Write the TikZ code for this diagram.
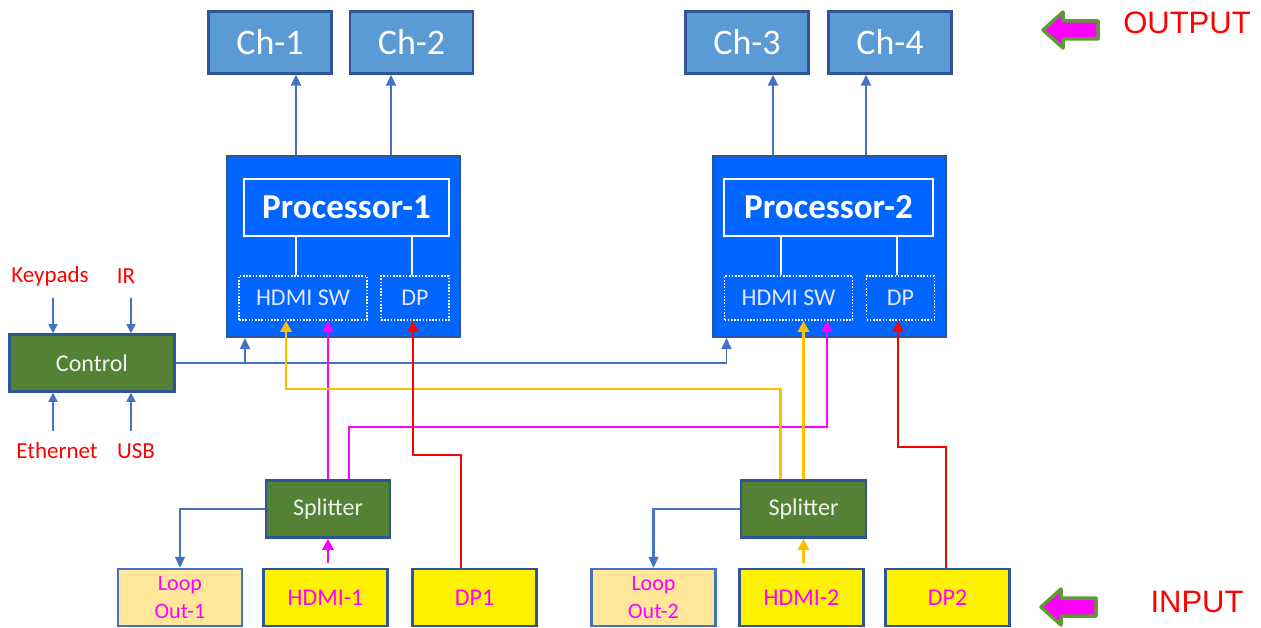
\documentclass[tikz,border=0pt]{standalone}
\usepackage{fontspec}
\setmainfont{Carlito}
\newfontfamily\arialfont{Liberation Sans}
\usepackage{xcolor}
\usetikzlibrary{arrows.meta,positioning,calc}
\definecolor{chfill}{HTML}{5B9BD5}
\definecolor{dkblue}{HTML}{2F5597}
\definecolor{procfill}{HTML}{0066FF}
\definecolor{grn}{HTML}{548235}
\definecolor{lpfill}{HTML}{FFE699}
\definecolor{lpborder}{HTML}{4472C4}
\definecolor{lnblue}{HTML}{4472C4}
\definecolor{mag}{HTML}{FF00FF}
\definecolor{gold}{HTML}{FFC000}
\definecolor{lblred}{HTML}{FF0000}
\definecolor{arrgrn}{HTML}{5E9B32}
\begin{document}
\begin{tikzpicture}[x=1pt,y=-1pt,
    box/.style={draw=dkblue, line width=2.5pt, inner sep=0pt, minimum height=57pt},
    chbox/.style={box, fill=chfill, minimum width=123pt, minimum height=62pt, text=white, font=\fontsize{36}{40}\selectfont},
    procbox/.style={draw=dkblue, line width=2pt, fill=procfill, minimum width=233pt, minimum height=181pt},
    corebox/.style={draw=white, line width=2pt, minimum height=57pt, text=white, font=\bfseries\fontsize{35}{40}\selectfont},
    swbox/.style={draw=white, line width=1.6pt, dash pattern=on 1.6pt off 1.6pt, minimum height=44pt, text=white!90!blue, font=\fontsize{24}{28}\selectfont},
    grnbox/.style={box, fill=grn, text=white!95!black, font=\fontsize{24}{28}\selectfont},
    inbox/.style={box, fill=yellow, text=mag, minimum width=124pt, font=\fontsize{24}{28}\selectfont},
    loopbox/.style={inbox, draw=lpborder, fill=lpfill, align=center, font=\fontsize{22}{28}\selectfont},
    lbl/.style={text=lblred, font=\fontsize{23}{28}\selectfont, inner sep=0pt},
    bline/.style={draw=lnblue, line width=2.2pt, -{Triangle[width=10pt,length=11pt]}},
    cline/.style={draw=lnblue, line width=1.6pt},
    kline/.style={draw=lnblue, line width=1.6pt, -{Triangle[width=9pt,length=9pt]}},
    wline/.style={draw=white, line width=2pt},
    mline/.style={draw=mag, line width=2.8pt, -{Triangle[width=11pt,length=11pt]}},
    yline/.style={draw=gold, line width=2.8pt, -{Triangle[width=11pt,length=11pt]}},
    rline/.style={draw=red, line width=2.8pt, -{Triangle[width=11pt,length=11pt]}},
    bigarrow/.style={draw=arrgrn, fill=mag, line width=3.5pt, line join=round},
    tag/.style={text=lblred, font=\arialfont\fontsize{31}{36}\selectfont}
]
    \useasboundingbox (0,0) rectangle (1261,628);

    % 输出通道
    \foreach \i/\x in {1/270,2/411.5,3/747,4/890} {
        \node[chbox] (ch\i) at (\x,42.5) {Ch-\i};
    }

    % 处理器1
    \node[procbox] (p1) at (343.5,246.5) {};
    \node[corebox, minimum width=205pt] (p1core) at (346.5,207.5) {Processor-1};
    \node[swbox, minimum width=128pt] (p1hdmi) at (303,298) {HDMI SW};
    \node[swbox, minimum width=68pt] (p1dp) at (415,298) {DP};
    \draw[wline] ([xshift=-50.5pt]p1core.south) -- ([xshift=-7pt]p1hdmi.north);
    \draw[wline] ([xshift=65.5pt]p1core.south) -- ([xshift=-3pt]p1dp.north);

    % 处理器2
    \node[procbox] (p2) at (829,246.5) {};
    \node[corebox, minimum width=209pt] (p2core) at (828.5,207.5) {Processor-2};
    \node[swbox, minimum width=128pt] (p2hdmi) at (788.5,298) {HDMI SW};
    \node[swbox, minimum width=68pt] (p2dp) at (900.5,298) {DP};
    \draw[wline] ([xshift=-47.5pt]p2core.south) -- ([xshift=-7.5pt]p2hdmi.north);
    \draw[wline] ([xshift=68.5pt]p2core.south) -- ([xshift=-3.5pt]p2dp.north);

    % 到通道的箭头
    \draw[bline] ([xshift=-47.5pt]p1.north) -- ([xshift=26pt]ch1.south);
    \draw[bline] ([xshift=47.5pt]p1.north) -- ([xshift=-20.5pt]ch2.south);
    \draw[bline] ([xshift=-56pt]p2.north) -- ([xshift=26pt]ch3.south);
    \draw[bline] ([xshift=37pt]p2.north) -- ([xshift=-24pt]ch4.south);

    % 控制
    \node[grnbox, minimum width=165pt] (ctrl) at (92,363) {Control};
    \node[lbl] (keypads) at (50,276) {Keypads};
    \node[lbl] (ir) at (126,276) {IR};
    \node[lbl] (eth) at (57,451) {Ethernet};
    \node[lbl] (usb) at (136,451) {USB};
    \coordinate (kp) at ([xshift=-39pt]ctrl.north);
    \coordinate (irp) at ([xshift=39pt]ctrl.north);
    \coordinate (ep) at ([xshift=-39pt]ctrl.south);
    \coordinate (up) at ([xshift=39pt]ctrl.south);
    \draw[kline, shorten <=12pt] (kp |- keypads.south) -- (kp);
    \draw[kline, shorten <=12pt] (irp |- keypads.south) -- (irp);
    \draw[kline, shorten <=12pt] (ep |- eth.north) -- (ep);
    \draw[kline, shorten <=12pt] (up |- eth.north) -- (up);
    \coordinate (p1in) at ([xshift=19pt]p1.south west);
    \coordinate (p2in) at ([xshift=15pt]p2.south west);
    \draw[cline, -{Triangle[width=10pt,length=11pt]}] (ctrl.east) -| (p2in);
    \draw[cline, -{Triangle[width=10pt,length=11pt]}] (ctrl.east -| p1in) -- (p1in);

    % 分配器
    \node[grnbox, minimum width=124pt] (split1) at (328,509) {Splitter};
    \node[grnbox, minimum width=125pt] (split2) at (803.5,509) {Splitter};

    % 输入
    \node[loopbox] (loop1) at (180,597.5) {Loop\\Out-1};
    \node[inbox] (hdmi1) at (325.5,597.5) {HDMI-1};
    \node[inbox] (dp1) at (474.5,597.5) {DP1};
    \node[loopbox] (loop2) at (653.5,597.5) {Loop\\Out-2};
    \node[inbox] (hdmi2) at (801.5,597.5) {HDMI-2};
    \node[inbox] (dp2) at (947.5,597.5) {DP2};

    % 拐点
    \coordinate (yturn) at (286,389);
    \coordinate (mturn) at (827,427);
    \coordinate (rturn1) at (413,455);
    \coordinate (rturn2) at (898,447);

    % 信号线
    \draw[bline] (split1.west) -| (loop1.north);
    \draw[bline] (split2.west) -| (loop2.north);
    \draw[mline, shorten <=5pt] (hdmi1.north -| split1.south) -- (split1.south);
    \draw[yline, shorten <=5pt] (hdmi2.north -| split2.south) -- (split2.south);
    \draw[mline] (split1.north) -- (split1.north |- p1hdmi.south);
    \draw[mline] ([xshift=21pt]split1.north) |- (mturn) -- (mturn |- p2hdmi.south);
    \draw[yline] ([xshift=-23pt]split2.north) |- (yturn) -- (yturn |- p1hdmi.south);
    \draw[yline] (split2.north) -- (split2.north |- p2hdmi.south);
    \draw[rline] ([xshift=-13.5pt]dp1.north) |- (rturn1) -- (rturn1 |- p1dp.south);
    \draw[rline] ([xshift=-1.5pt]dp2.north) |- (rturn2) -- (rturn2 |- p2dp.south);

    % 右侧标记
    \node[tag] (outtag) at (1187,23) {OUTPUT};
    \node[tag] (intag) at (1197,602) {INPUT};
    \draw[bigarrow] (1043,30) -- (1063,12) -- (1063,21) -- (1098,21) -- (1098,39) -- (1063,39) -- (1063,48) -- cycle;
    \draw[bigarrow] (1041,607) -- (1061,589) -- (1061,598) -- (1096,598) -- (1096,616) -- (1061,616) -- (1061,625) -- cycle;
\end{tikzpicture}
\end{document}
